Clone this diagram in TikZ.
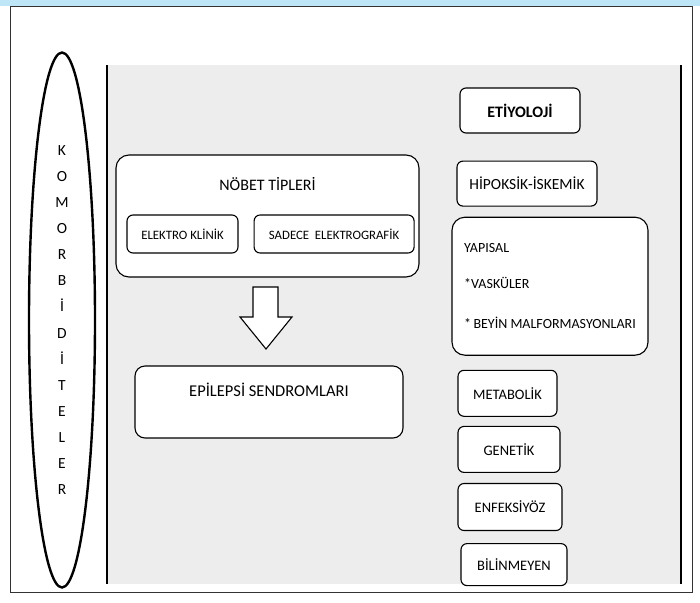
\documentclass[tikz,border=0pt]{standalone}
\usepackage{fontspec}
\setmainfont{Carlito}
\usetikzlibrary{positioning,shapes.geometric}
\definecolor{bandblue}{HTML}{BFE6F7}
\definecolor{panelgray}{HTML}{EDEDED}

\begin{document}
\begin{tikzpicture}[x=1pt,y=-1pt]
    \tikzset{
      roundbox/.style={rectangle,rounded corners=6pt,draw=black,line width=1.1pt,fill=white,inner sep=0pt,align=center,font=\fontsize{14.5}{17}\selectfont},
      bigbox/.style={roundbox,rounded corners=13pt},
      smallbox/.style={roundbox,font=\fontsize{12.8}{15}\selectfont},
      ovalnode/.style={ellipse,draw=black,line width=2.4pt,inner sep=0pt,align=center,font=\fontsize{15.5}{26.15}\selectfont},
      hollowarrow/.style={draw=black,line width=1.1pt,fill=white,line join=miter}
    }
    \useasboundingbox (0,0) rectangle (700,602);
    % frame and grey panel
    \fill[bandblue] (0,0) rectangle (700,6);
    \draw[black!80] (10,6) rectangle (692,592);
    \fill[panelgray] (107,65) rectangle (681,584);
    \draw[line width=1.1pt] (107,65) -- (107,584);
    \draw[line width=1.1pt] (681,65) -- (681,584);

    \node[ovalnode,minimum width=66pt,minimum height=535pt](komorbid) at (62,320){K\\O\\M\\O\\R\\B\\İ\\D\\İ\\T\\E\\L\\E\\R};

    \node[bigbox,minimum width=303pt,minimum height=122pt,text height=12pt,text depth=63pt,font=\fontsize{16}{18}\selectfont](nobet) at (267.5,216){NÖBET TİPLERİ};
    \node[smallbox,minimum width=111pt,minimum height=38pt,above right=24pt and 11pt of nobet.south west](klinik){ELEKTRO KLİNİK};
    \node[smallbox,minimum width=160pt,minimum height=38pt,right=15pt of klinik](grafik){SADECE \ ELEKTROGRAFİK};
    \draw[hollowarrow] (253,287) -- (278,287) -- (278,317) -- (292,317) -- (266,349) -- (240,317) -- (253,317) -- cycle;
    \node[bigbox,rounded corners=10pt,minimum width=268pt,minimum height=72pt,text height=12pt,text depth=24pt,font=\fontsize{16.5}{18}\selectfont](sendrom) at (269,402){EPİLEPSİ SENDROMLARI};

    \node[roundbox,minimum width=120pt,minimum height=45pt,font=\fontsize{16}{18}\selectfont\bfseries](etiyoloji) at (520,110.5){ETİYOLOJİ};
    \node[roundbox,minimum width=140pt,minimum height=45pt,font=\fontsize{15.5}{18}\selectfont,below=27pt of etiyoloji.south west,anchor=north west,xshift=-3pt](hipoksik){HİPOKSİK-İSKEMİK};
    \node[bigbox,minimum width=196pt,minimum height=138pt,align=left,font=\fontsize{14}{17}\selectfont,below=10pt of hipoksik.south west,anchor=north west,xshift=-5pt](yapisal){YAPISAL\\[19pt]*VASKÜLER\\[23pt]*\,BEYİN MALFORMASYONLARI};
    \node[roundbox,minimum width=99pt,minimum height=46pt,below=14pt of yapisal.south west,anchor=north west,xshift=6pt](metabolik){METABOLİK};
    \node[roundbox,minimum width=102pt,minimum height=46pt,below=9pt of metabolik.south west,anchor=north west](genetik){GENETİK};
    \node[roundbox,minimum width=104pt,minimum height=47pt,below=10pt of genetik.south west,anchor=north west](enfeksiyoz){ENFEKSİYÖZ};
    \node[roundbox,minimum width=106pt,minimum height=42pt,below=12pt of enfeksiyoz.south west,anchor=north west,xshift=3pt](bilinmeyen){BİLİNMEYEN};
\end{tikzpicture}
\end{document}
